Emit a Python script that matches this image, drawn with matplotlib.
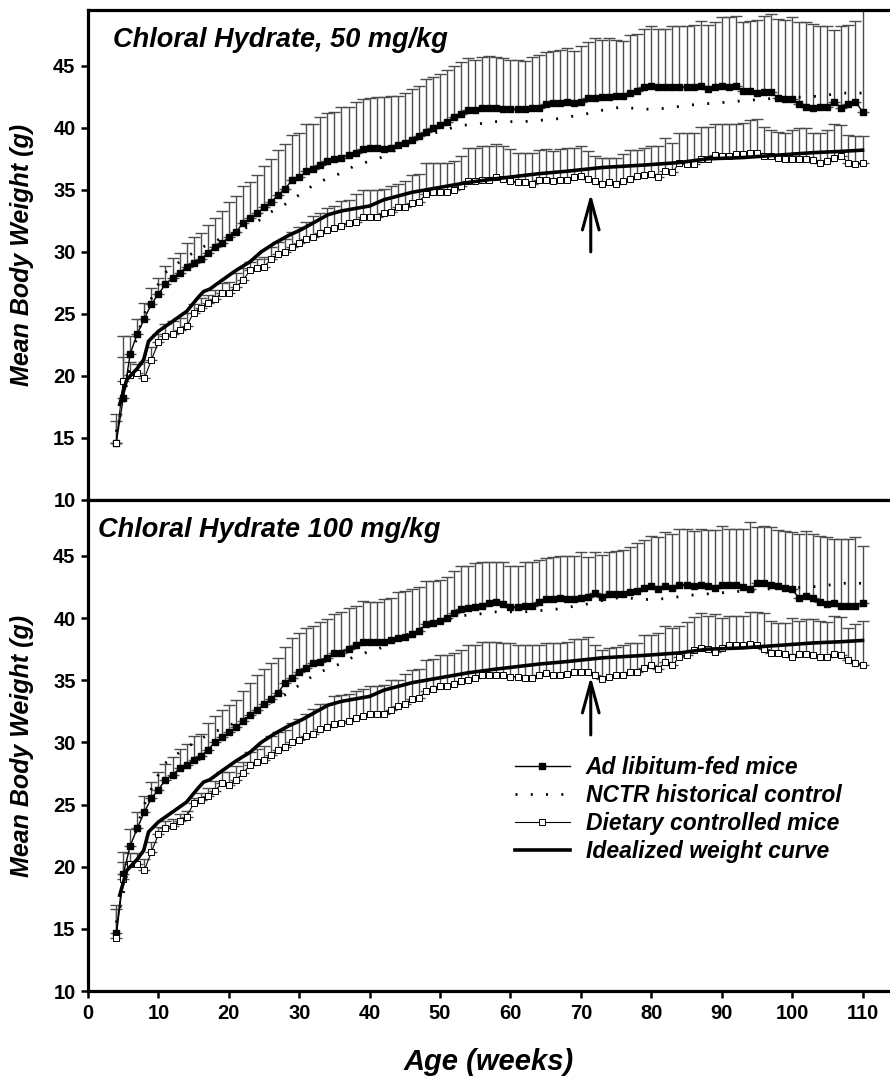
import matplotlib
matplotlib.use("Agg")
import matplotlib.pyplot as plt
from matplotlib.lines import Line2D
import numpy as np

plt.rcParams['font.family'] = ['Liberation Sans', 'DejaVu Sans']

# age in weeks, one point per week
weeks = list(range(4, 111))

# --- top panel: Chloral Hydrate 50 mg/kg ---
adlib_50 = [14.6, 18.2, 21.8, 23.4, 24.6, 25.8, 26.6, 27.4, 27.9, 28.3,
            28.8, 29.1, 29.4, 29.9, 30.4, 30.7, 31.2, 31.6, 32.3, 32.7,
            33.1, 33.6, 34.0, 34.6, 35.1, 35.8, 36.0, 36.5, 36.7, 37.0,
            37.3, 37.5, 37.6, 37.8, 38.0, 38.3, 38.4, 38.4, 38.3, 38.4,
            38.6, 38.8, 39.0, 39.3, 39.7, 40.0, 40.2, 40.5, 40.9, 41.1,
            41.4, 41.4, 41.6, 41.6, 41.6, 41.5, 41.5, 41.5, 41.5, 41.6,
            41.6, 41.9, 42.0, 42.0, 42.1, 42.0, 42.1, 42.4, 42.4, 42.5,
            42.5, 42.6, 42.6, 42.8, 43.0, 43.3, 43.4, 43.3, 43.3, 43.3,
            43.3, 43.3, 43.3, 43.4, 43.1, 43.3, 43.4, 43.3, 43.4, 43.0,
            43.0, 42.8, 42.9, 42.9, 42.4, 42.3, 42.3, 41.9, 41.7, 41.6,
            41.7, 41.7, 42.1, 41.6, 41.9, 42.1, 41.3]
adlib_50_upper = [16.4, 23.2, 23.2, 24.6, 25.9, 27.1, 27.9, 28.9, 29.5, 29.9,
                  30.7, 31.2, 31.5, 32.2, 32.7, 33.3, 34.0, 34.5, 35.3, 35.6,
                  36.2, 36.9, 37.5, 38.2, 38.7, 39.4, 39.6, 40.3, 40.3, 40.9,
                  41.2, 41.3, 41.7, 41.7, 42.1, 42.3, 42.4, 42.5, 42.5, 42.6,
                  42.6, 42.8, 43.1, 43.4, 43.9, 44.1, 44.3, 44.7, 45.0, 45.3,
                  45.6, 45.5, 45.7, 45.8, 45.7, 45.6, 45.5, 45.5, 45.4, 45.7,
                  45.9, 46.1, 46.2, 46.3, 46.4, 46.2, 46.6, 46.9, 47.2, 47.1,
                  47.2, 47.1, 47.0, 47.5, 47.6, 48.0, 48.2, 48.0, 48.0, 48.2,
                  48.2, 48.2, 48.3, 48.6, 48.3, 48.5, 48.9, 48.9, 49.0, 48.5,
                  48.6, 48.7, 49.0, 49.2, 48.8, 48.7, 48.9, 48.5, 48.5, 48.4,
                  48.2, 48.2, 47.9, 48.2, 48.3, 48.6, 50.5]
diet_50 = [14.6, 19.6, 20.1, 20.2, 19.8, 21.3, 22.7, 23.2, 23.4, 23.7,
           24.0, 25.1, 25.5, 25.9, 26.2, 26.7, 26.7, 27.2, 27.7, 28.5,
           28.7, 28.8, 29.4, 29.8, 30.0, 30.4, 30.7, 31.0, 31.2, 31.5,
           31.8, 31.9, 32.1, 32.3, 32.4, 32.8, 32.8, 32.8, 33.1, 33.2,
           33.6, 33.6, 33.9, 34.0, 34.7, 34.8, 34.8, 34.8, 35.0, 35.3,
           35.7, 35.7, 35.8, 35.8, 36.0, 35.9, 35.7, 35.6, 35.6, 35.5,
           35.8, 35.8, 35.7, 35.8, 35.8, 36.0, 36.1, 35.9, 35.7, 35.5,
           35.6, 35.5, 35.7, 35.9, 36.1, 36.2, 36.3, 36.0, 36.5, 36.4,
           37.2, 37.1, 37.1, 37.5, 37.5, 37.8, 37.7, 37.7, 37.9, 37.9,
           38.0, 38.0, 37.7, 37.7, 37.6, 37.5, 37.5, 37.5, 37.5, 37.4,
           37.2, 37.3, 37.6, 37.7, 37.2, 37.1, 37.2]
diet_50_upper = [16.9, 21.5, 21.1, 21.0, 21.1, 22.3, 23.4, 24.2, 24.4, 24.7,
                 25.1, 25.8, 26.3, 26.5, 26.9, 27.5, 27.6, 28.3, 28.7, 29.2,
                 29.4, 29.6, 30.4, 30.8, 31.0, 31.6, 32.0, 32.4, 32.9, 33.1,
                 33.5, 33.7, 34.1, 34.2, 34.7, 35.0, 35.0, 35.0, 35.1, 35.3,
                 35.5, 35.7, 36.2, 36.3, 37.2, 37.2, 37.2, 37.2, 37.3, 37.7,
                 38.4, 38.4, 38.5, 38.5, 38.7, 38.5, 38.3, 38.0, 38.0, 38.0,
                 38.2, 38.3, 38.1, 38.3, 38.4, 38.4, 38.5, 38.1, 37.7, 37.6,
                 37.6, 37.6, 37.9, 38.2, 38.2, 38.4, 38.5, 38.5, 39.2, 38.8,
                 39.6, 39.6, 39.6, 40.1, 40.1, 40.3, 40.3, 40.3, 40.3, 40.4,
                 40.6, 40.7, 40.1, 39.8, 39.7, 39.6, 39.8, 40.0, 40.0, 39.6,
                 39.6, 39.8, 40.3, 40.2, 39.4, 39.3, 39.3]

# --- bottom panel: Chloral Hydrate 100 mg/kg ---
adlib_100 = [14.7, 19.4, 21.7, 23.1, 24.4, 25.5, 26.2, 27.0, 27.4, 27.9,
             28.2, 28.6, 28.9, 29.4, 30.0, 30.4, 30.8, 31.2, 31.7, 32.2,
             32.6, 33.1, 33.5, 34.0, 34.8, 35.2, 35.7, 36.0, 36.4, 36.5,
             36.8, 37.2, 37.2, 37.5, 37.8, 38.1, 38.1, 38.1, 38.1, 38.2,
             38.4, 38.5, 38.7, 39.0, 39.5, 39.6, 39.8, 40.0, 40.4, 40.7,
             40.8, 40.9, 41.0, 41.2, 41.3, 41.1, 40.9, 40.9, 41.0, 41.0,
             41.3, 41.5, 41.5, 41.6, 41.5, 41.5, 41.6, 41.7, 42.0, 41.7,
             41.9, 41.9, 41.9, 42.1, 42.2, 42.4, 42.6, 42.3, 42.6, 42.4,
             42.7, 42.7, 42.6, 42.7, 42.6, 42.4, 42.7, 42.7, 42.7, 42.5,
             42.3, 42.8, 42.8, 42.7, 42.6, 42.4, 42.3, 41.6, 41.8, 41.6,
             41.3, 41.1, 41.2, 41.0, 41.0, 41.0, 41.2]
adlib_100_upper = [16.9, 21.2, 23.0, 24.4, 25.7, 26.8, 27.6, 28.3, 28.8, 29.5,
                   29.9, 30.5, 30.7, 31.6, 32.1, 32.6, 33.0, 33.4, 34.1, 34.8,
                   35.4, 35.9, 36.4, 36.8, 37.7, 38.4, 38.8, 39.2, 39.4, 39.7,
                   39.9, 40.3, 40.5, 40.8, 41.0, 41.4, 41.3, 41.3, 41.5, 41.6,
                   42.1, 42.2, 42.3, 42.5, 43.0, 43.0, 43.1, 43.3, 43.8, 44.2,
                   44.2, 44.4, 44.5, 44.5, 44.5, 44.5, 44.2, 44.2, 44.5, 44.5,
                   44.7, 44.8, 44.9, 45.0, 45.0, 45.0, 45.3, 44.9, 45.3, 45.1,
                   45.3, 45.4, 45.5, 45.7, 46.0, 46.3, 46.6, 46.5, 46.9, 46.8,
                   47.2, 47.2, 47.0, 47.2, 47.1, 47.1, 47.4, 47.2, 47.2, 47.2,
                   47.7, 47.3, 47.4, 47.3, 47.1, 47.0, 46.9, 46.8, 47.0, 46.8,
                   46.6, 46.5, 46.4, 46.4, 46.4, 46.5, 45.8]
diet_100 = [14.3, 19.0, 20.2, 20.2, 19.7, 21.2, 22.6, 23.1, 23.3, 23.7,
            24.0, 25.1, 25.4, 25.7, 26.1, 26.7, 26.6, 27.0, 27.5, 28.2,
            28.4, 28.6, 29.0, 29.4, 29.6, 30.0, 30.2, 30.5, 30.7, 31.1,
            31.2, 31.5, 31.6, 31.7, 32.0, 32.1, 32.3, 32.3, 32.3, 32.6,
            32.9, 33.1, 33.5, 33.6, 34.1, 34.3, 34.5, 34.5, 34.7, 34.9,
            35.0, 35.2, 35.4, 35.4, 35.4, 35.4, 35.3, 35.3, 35.2, 35.2,
            35.4, 35.6, 35.4, 35.4, 35.5, 35.7, 35.7, 35.7, 35.4, 35.1,
            35.3, 35.4, 35.4, 35.7, 35.7, 36.0, 36.2, 35.9, 36.5, 36.2,
            36.9, 37.0, 37.4, 37.6, 37.5, 37.3, 37.6, 37.8, 37.8, 37.8,
            37.9, 37.8, 37.5, 37.2, 37.2, 37.1, 36.9, 37.1, 37.1, 37.0,
            36.9, 36.9, 37.1, 37.0, 36.6, 36.4, 36.2]
diet_100_upper = [16.6, 20.4, 21.1, 21.1, 20.6, 22.0, 23.2, 23.7, 23.8, 24.2,
                  24.5, 25.5, 25.9, 26.3, 26.9, 27.6, 27.6, 28.1, 28.4, 29.2,
                  29.5, 29.7, 30.5, 30.8, 31.0, 31.6, 31.9, 32.3, 32.7, 33.1,
                  33.1, 33.7, 33.8, 33.9, 34.1, 34.3, 34.5, 34.5, 34.6, 35.0,
                  35.0, 35.5, 35.8, 35.9, 36.6, 36.7, 37.0, 37.0, 37.2, 37.4,
                  37.8, 37.8, 38.1, 38.1, 38.1, 38.0, 38.0, 37.8, 37.8, 37.8,
                  37.8, 38.0, 38.0, 38.0, 38.1, 38.3, 38.3, 38.5, 37.8, 37.4,
                  37.6, 37.7, 37.8, 38.0, 38.0, 38.6, 38.6, 38.8, 39.4, 39.2,
                  39.4, 39.7, 40.1, 40.4, 40.2, 40.3, 40.0, 40.2, 40.2, 40.2,
                  40.5, 40.5, 40.4, 39.8, 39.6, 39.6, 40.0, 39.8, 39.9, 39.9,
                  39.8, 39.7, 40.2, 40.1, 39.2, 39.5, 39.8]

# NCTR historical control (dotted line)
nctr_weeks = [4, 5, 6, 7, 8, 9.6, 10.9, 13.0, 15.1, 17, 19, 21, 23.5, 25.6,
              27.9, 30.0, 32.3, 34.4, 36.6, 37.7, 39.9, 42.1, 44.3, 46.6,
              48.8, 51.0, 53.2, 55.3, 57.5, 59.7, 61.9, 64.1, 66.3, 68.5,
              70.6, 72.9, 76.0, 78.2, 80.4, 82.6, 84.8, 86.9, 89.2, 91.4,
              93.6, 95.8, 98.0, 100.2, 102.4, 104.6, 106.8, 109.0, 110]
nctr_weight = [15.5, 17.8, 21.0, 23.3, 25.0, 27.0, 28.3, 29.2, 30.0, 30.6,
               31.1, 31.6, 32.2, 33.1, 33.8, 34.6, 35.5, 36.0, 36.5, 36.9,
               37.3, 37.7, 38.4, 39.0, 39.5, 39.9, 40.2, 40.3, 40.5, 40.5,
               40.5, 40.6, 40.7, 40.9, 41.1, 41.4, 41.7, 41.5, 41.5, 41.6,
               41.8, 41.9, 42.0, 42.1, 42.2, 42.3, 42.4, 42.45, 42.5, 42.6,
               42.8, 42.8, 42.8]

# idealized weight curve (thick line)
ideal_weeks = [4.5, 5.5, 7, 7.9, 8.6, 10, 12, 14, 15.6, 16.4, 17.3, 19, 21,
               23, 24.6, 26.5, 28.4, 30.3, 32.2, 34.1, 36, 38, 40, 42, 46,
               51, 54, 58, 61, 64, 68, 73, 79, 84, 88, 93, 98, 103, 107, 110]
ideal_weight = [17.7, 19.7, 20.6, 21.3, 22.8, 23.6, 24.4, 25.2, 26.3, 26.8,
                27.0, 27.7, 28.5, 29.2, 30.0, 30.7, 31.3, 31.8, 32.4, 33.0,
                33.3, 33.5, 33.7, 34.2, 34.8, 35.3, 35.6, 35.9, 36.1, 36.3,
                36.5, 36.8, 37.0, 37.2, 37.5, 37.6, 37.8, 38.0, 38.1, 38.2]

titles = ["Chloral Hydrate, 50 mg/kg", "Chloral Hydrate 100 mg/kg"]
labels = ['Ad libitum-fed mice', 'NCTR historical control',
          'Dietary controlled mice', 'Idealized weight curve']

DOTS = (0, (0.7, 4.8))

fig = plt.figure(figsize=(8.9, 10.82), dpi=100)
ax1 = fig.add_axes([0.0989, 0.5379, 0.9011, 0.4529])
ax2 = fig.add_axes([0.0989, 0.0841, 0.9011, 0.4538])


def draw_panel(ax, adlib, adlib_up, diet, diet_up, title, title_x, arrow_y):
    w = np.array(weeks)
    adlib = np.array(adlib)
    diet = np.array(diet)
    up_a = np.array(adlib_up) - adlib
    up_d = np.array(diet_up) - diet
    ax.errorbar(w, adlib, yerr=[np.zeros_like(up_a), up_a], fmt='none',
                ecolor='0.3', elinewidth=1, capsize=4.3, capthick=1, zorder=1)
    ax.errorbar(w, diet, yerr=[np.zeros_like(up_d), up_d], fmt='none',
                ecolor='0.3', elinewidth=1, capsize=4.3, capthick=1, zorder=1)
    ax.plot(w, adlib, color='k', lw=1, marker='s', ms=5, mfc='k', mec='k', zorder=3)
    ax.plot(nctr_weeks, nctr_weight, color='k', lw=2.0, ls=DOTS, zorder=2)
    ax.plot(w, diet, color='k', lw=0.8, marker='s', ms=5, mfc='white',
            mec='k', mew=0.7, zorder=3)
    ax.plot(ideal_weeks, ideal_weight, color='k', lw=2.6, zorder=4)

    ax.annotate('', xy=(71.4, arrow_y[1]), xytext=(71.4, arrow_y[0]),
                arrowprops=dict(arrowstyle='->,head_length=1.1,head_width=0.3',
                                mutation_scale=20, lw=2.2, color='k',
                                shrinkA=0, shrinkB=0))

    ax.text(title_x, 0.939, title, transform=ax.transAxes, fontsize=19.5,
            fontweight='bold', fontstyle='italic', va='center', ha='left')

    ax.set_xlim(0, 113.9)
    ax.set_ylim(10, 49.5)
    ax.set_yticks([10, 15, 20, 25, 30, 35, 40, 45])
    ax.set_xticks(range(0, 111, 10))
    for s in ['left', 'top', 'bottom']:
        ax.spines[s].set_linewidth(2.3)
    ax.spines['right'].set_visible(False)
    ax.tick_params(direction='out', length=5, width=1.8, labelsize=14.5, pad=4)
    for lab in ax.get_yticklabels() + ax.get_xticklabels():
        lab.set_fontweight('bold')


draw_panel(ax1, adlib_50, adlib_50_upper, diet_50, diet_50_upper,
           titles[0], 0.031, (30.0, 34.7))
draw_panel(ax2, adlib_100, adlib_100_upper, diet_100, diet_100_upper,
           titles[1], 0.012, (30.6, 35.3))

ax1.tick_params(axis='x', bottom=False, labelbottom=False)
ax2.set_xlabel('Age (weeks)', fontsize=21, fontweight='bold',
               fontstyle='italic', labelpad=18)

fig.text(0.025, 0.764, 'Mean Body Weight (g)', rotation=90, fontsize=18,
         fontweight='bold', fontstyle='italic', ha='center', va='center')
fig.text(0.025, 0.311, 'Mean Body Weight (g)', rotation=90, fontsize=18,
         fontweight='bold', fontstyle='italic', ha='center', va='center')

handles = [
    Line2D([], [], color='k', lw=1, marker='s', ms=5, mfc='k', mec='k'),
    Line2D([], [], color='k', lw=2.0, ls=DOTS),
    Line2D([], [], color='k', lw=0.8, marker='s', ms=5, mfc='white', mec='k', mew=0.7),
    Line2D([], [], color='k', lw=2.6),
]
ax2.legend(handles, labels, loc='upper left', bbox_to_anchor=(0.532, 0.478),
           frameon=False, handlelength=2.4, handletextpad=0.7,
           labelspacing=0.22, borderpad=0, borderaxespad=0,
           prop={'size': 16.5, 'weight': 'bold', 'style': 'italic'})

fig.savefig('out.png', dpi=100)
